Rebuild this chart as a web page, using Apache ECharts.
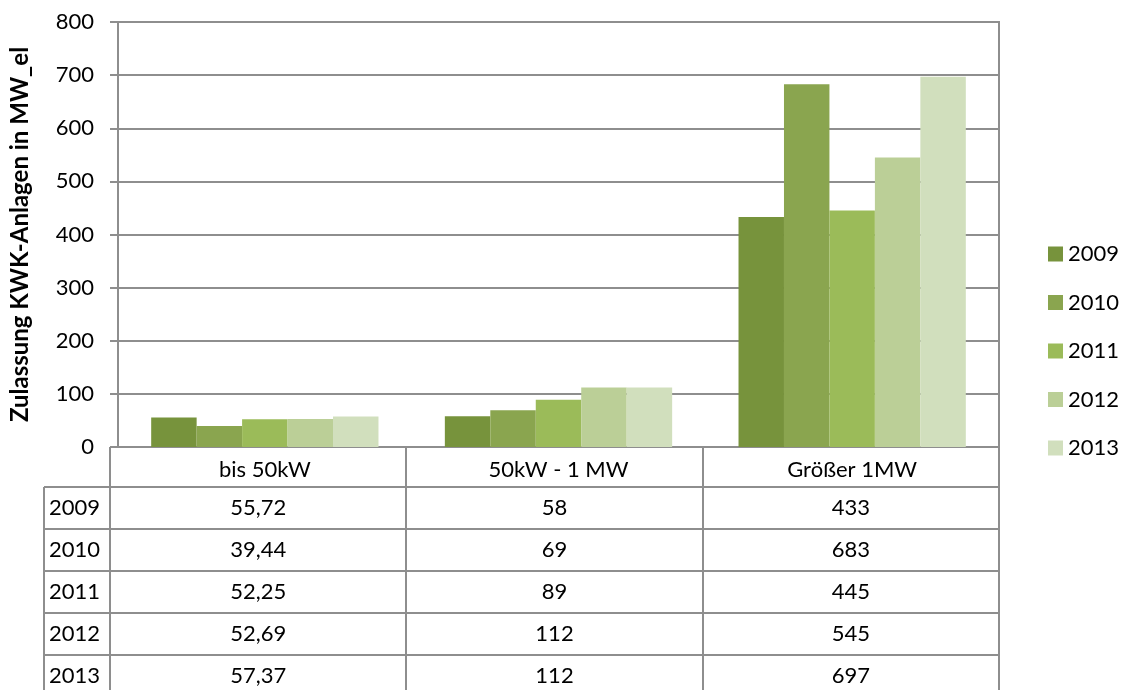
<!DOCTYPE html>
<html>
<head>
<meta charset="utf-8">
<script src="https://cdn.jsdelivr.net/npm/echarts@6/dist/echarts.min.js"></script>
<style>
  html, body { margin: 0; padding: 0; background: #fff; }
  #chart { width: 1121px; height: 690px; }
</style>
</head>
<body>
<div id="chart"></div>
<script>
// Daten
const categories = ['bis 50kW', '50kW - 1 MW', 'Größer 1MW'];
const years = ['2009', '2010', '2011', '2012', '2013'];
const values2009 = [55.72, 58, 433];
const values2010 = [39.44, 69, 683];
const values2011 = [52.25, 89, 445];
const values2012 = [52.69, 112, 545];
const values2013 = [57.37, 112, 697];
const yTicks = [0, 100, 200, 300, 400, 500, 600, 700, 800];

const seriesValues = [values2009, values2010, values2011, values2012, values2013];
const colors = ['#77933c', '#8aa54f', '#9bbb59', '#bbcf97', '#d1dfbd'];

// Layout
const FONT = 'Lato, "Open Sans", sans-serif';
const LINE = '#8e8e8e';
const plotLeft = 110, plotRight = 999, plotTop = 22, plotBottom = 447;
const headerBottom = 487, rowH = 42, tableLeft = 44, chartH = 690;

const chart = echarts.init(document.getElementById('chart'));

// Tabelle unter der Achse
const buildTable = () => {
  const g = [];
  const colW = (plotRight - plotLeft) / categories.length;
  const line = (x1, y1, x2, y2) => ({
    type: 'line', silent: true,
    shape: { x1, y1, x2, y2 },
    style: { stroke: LINE, lineWidth: 2 }
  });
  // senkrechte Linien
  g.push(line(tableLeft, headerBottom, tableLeft, chartH));
  g.push(line(plotLeft, plotBottom, plotLeft, chartH));
  for (let c = 1; c <= categories.length; c++) {
    const x = Math.round(plotLeft + c * colW);
    g.push(line(x, plotBottom, x, chartH));
  }
  // waagerechte Linien und Zeilen
  years.forEach((yr, r) => {
    const top = headerBottom + r * rowH;
    g.push(line(tableLeft, top, plotRight, top));
    g.push({
      type: 'text', silent: true,
      style: {
        x: tableLeft + 5, y: top + rowH / 2, text: yr,
        font: '22px ' + FONT, fill: '#000', verticalAlign: 'middle'
      }
    });
    seriesValues[r].forEach((v, c) => {
      g.push({
        type: 'text', silent: true,
        style: {
          x: plotLeft + (c + 0.5) * colW, y: top + rowH / 2,
          text: String(v).replace('.', ','),
          font: '22px ' + FONT, fill: '#000',
          align: 'center', verticalAlign: 'middle'
        }
      });
    });
  });
  return g;
};

chart.setOption({
  animation: false,
  textStyle: { fontFamily: FONT },
  grid: {
    left: plotLeft, right: 1121 - plotRight, top: plotTop, bottom: chartH - plotBottom,
    show: true, borderColor: LINE, borderWidth: 2
  },
  legend: {
    orient: 'vertical',
    left: 1043, top: 238,
    itemWidth: 15, itemHeight: 15, itemGap: 26.5,
    icon: 'rect',
    textStyle: { fontSize: 22, color: '#000', fontFamily: FONT },
    data: years
  },
  xAxis: {
    type: 'category',
    data: categories,
    axisLine: { lineStyle: { color: LINE, width: 2 } },
    axisTick: { show: false },
    axisLabel: { fontSize: 22, color: '#000', margin: 12, fontFamily: FONT }
  },
  yAxis: {
    type: 'value',
    min: 0, max: 800, interval: 100,
    name: 'Zulassung KWK-Anlagen in MW_el',
    nameLocation: 'middle',
    nameGap: 86,
    nameTextStyle: { fontSize: 24, fontWeight: 'bold', color: '#000', fontFamily: FONT },
    axisLine: { show: true, lineStyle: { color: LINE, width: 2 } },
    axisTick: { show: true, length: 8, lineStyle: { color: LINE, width: 2 } },
    splitLine: { lineStyle: { color: LINE, width: 2 } },
    axisLabel: {
      fontSize: 22, color: '#000', margin: 24, fontFamily: FONT,
      formatter: v => (yTicks.includes(v) ? String(v) : '')
    }
  },
  series: years.map((yr, i) => ({
    name: yr,
    type: 'bar',
    data: seriesValues[i],
    barGap: '0%',
    barCategoryGap: '22.6%',
    itemStyle: { color: colors[i] }
  })),
  graphic: buildTable()
});
</script>
</body>
</html>
